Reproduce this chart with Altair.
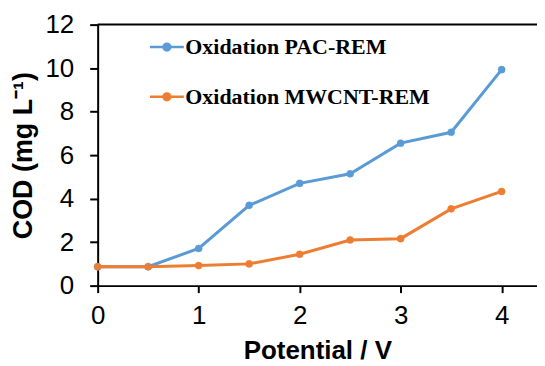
import altair as alt
import pandas as pd

potential = [0, 0.5, 1, 1.5, 2, 2.5, 3, 3.5, 4]
pac = [0.87, 0.87, 1.71, 3.69, 4.7, 5.14, 6.55, 7.05, 9.93]
mwcnt = [0.87, 0.87, 0.92, 1.0, 1.44, 2.1, 2.16, 3.53, 4.33]
series_names = ["Oxidation PAC-REM", "Oxidation MWCNT-REM"]
colors = ["#5B9BD5", "#ED7D31"]
x_ticks = [0, 1, 2, 3, 4]
y_ticks = [0, 2, 4, 6, 8, 10, 12]

rows = []
for name, vals in zip(series_names, [pac, mwcnt]):
    for p, v in zip(potential, vals):
        rows.append({"Potential": p, "COD": v, "Series": name})
df = pd.DataFrame(rows)

xs = alt.Scale(domain=[0, 4.35], nice=False, zero=False)
ys = alt.Scale(domain=[0, 12], nice=False)
cs = alt.Scale(domain=series_names, range=colors)

sym_path = "M-1,0L1,0M-0.2,0A0.2,0.2,0,1,1,0.2,0A0.2,0.2,0,1,1,-0.2,0Z"

legend = alt.Legend(
    title=None, orient="none", legendX=51, legendY=4, padding=0,
    symbolType=sym_path, symbolSize=1156, symbolStrokeWidth=2.5,
    labelFont="Liberation Serif", labelFontWeight="bold", labelFontSize=22,
    labelColor="black", rowPadding=20, labelOffset=0, labelLimit=0,
)

axis_common = dict(grid=False, labelFontSize=26, titleFontWeight="bold",
                   labelFont="Liberation Sans", titleFont="Liberation Sans",
                   tickWidth=2, domainWidth=2, domainColor="black", labelFlush=False,
                   tickColor="black", labelColor="black", titleColor="black")

x_enc = alt.X("Potential:Q", scale=xs,
              axis=alt.Axis(values=x_ticks, title="Potential / V", tickSize=7, titleFontSize=26,
                            labelPadding=10, titlePadding=9, format="d", **axis_common))
y_enc = alt.Y("COD:Q", scale=ys,
              axis=alt.Axis(values=y_ticks, title="COD (mg L⁻¹)", tickSize=8, titleFontSize=27,
                            labelPadding=16, titlePadding=7, **axis_common))

base = alt.Chart(df)
points = base.mark_point(filled=True, size=50, opacity=1, strokeWidth=0.5).encode(
    x=x_enc, y=y_enc,
    color=alt.Color("Series:N", scale=cs, legend=legend, sort=series_names),
    stroke=alt.Stroke("Series:N", scale=cs, legend=legend, sort=series_names),
)
lines = base.mark_line(strokeWidth=3).encode(
    x=x_enc, y=y_enc,
    color=alt.Color("Series:N", scale=cs, legend=legend, sort=series_names),
    detail="Series:N",
)

top_df = pd.DataFrame({"y": [12], "x0": [0], "x1": [4.35]})
top = alt.Chart(top_df).mark_rule(color="black", strokeWidth=2).encode(
    x=alt.X("x0:Q", scale=xs), x2="x1:Q", y=alt.Y("y:Q", scale=ys)
)

chart = alt.layer(points, lines, top).properties(
    width=441, height=262,
    autosize=alt.AutoSizeParams(type="none"),
    padding={"left": 90, "top": 16, "right": 0, "bottom": 80},
).configure_view(stroke=None)

chart.save("out.html", embed_options={"renderer": "svg", "actions": False})
